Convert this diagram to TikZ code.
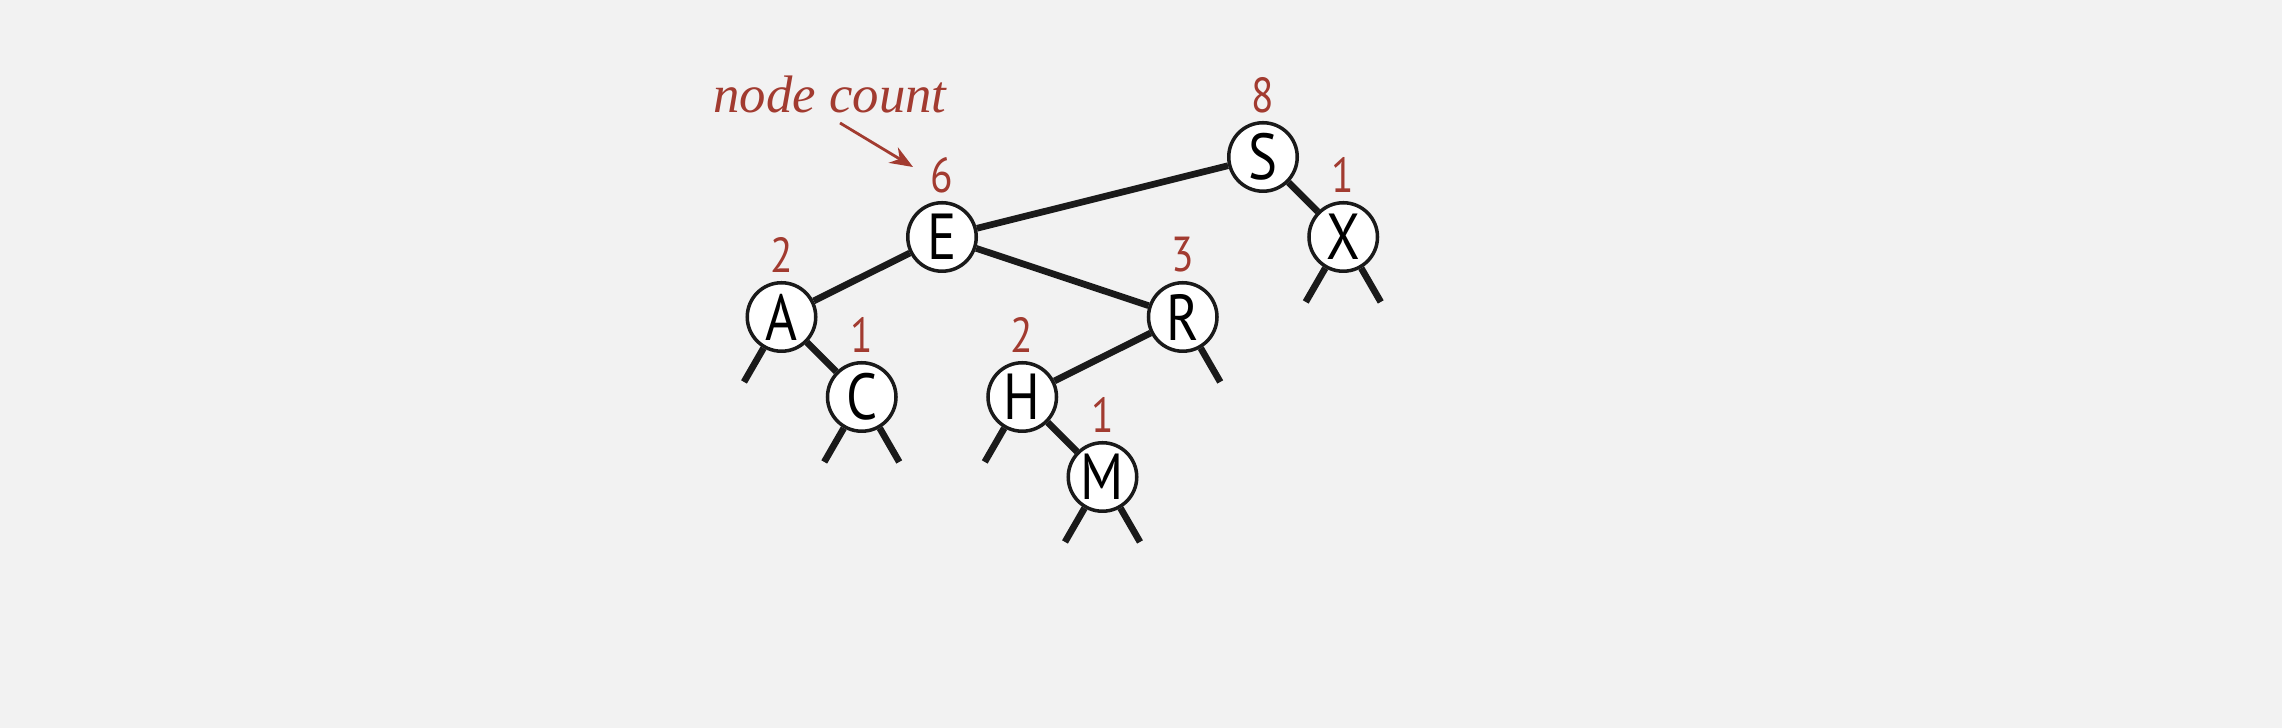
\documentclass[tikz,border=0pt]{standalone}
\usepackage{fontspec}
\setmainfont{Liberation Serif}
\newfontfamily\keyfont[Numbers=Lining,FakeStretch=0.84]{PT Sans}
\usetikzlibrary{arrows.meta,positioning,calc}
\definecolor{Bg}{HTML}{F2F2F2}
\definecolor{Count}{HTML}{A23B30}
\definecolor{Ink}{HTML}{1A1A1A}
\tikzset{
  key/.style={circle,draw=Ink,line width=1pt,fill=white,minimum size=6.85mm,
              inner sep=0pt,font=\keyfont\fontsize{18.5}{18.5}\selectfont},
  count/.style={text=Count,font=\keyfont\fontsize{14}{14}\selectfont,
              anchor=center,label distance=2.6mm},
  link/.style={draw=Ink,line width=1.9pt},
  nulllink/.style={draw=Ink,line width=1.9pt},
  note/.style={text=Count,font=\itshape\fontsize{15}{16}\selectfont},
  pointer/.style={-{Stealth[length=2.3mm,width=1.8mm]},draw=Count,line width=0.8pt}
}

\begin{document}
\begin{tikzpicture}
  \fill[Bg] (0,0) rectangle (22.82,7.28);
  \useasboundingbox (0,0) rectangle (22.82,7.28);
  % keys in sorted order, one level down = 8mm
  \node[key,label={[count]above:2}] (A) at (7.815,4.11) {A};
  \node[key,label={[count]above:1}] (C) at (8.6175,3.31) {C};
  \node[key,label={[count]above:6}] (E) at (9.42,4.91) {E};
  \node[key,label={[count]above:2}] (H) at (10.2225,3.31) {H};
  \node[key,label={[count]above:1}] (M) at (11.025,2.51) {M};
  \node[key,label={[count]above:3}] (R) at (11.8275,4.11) {R};
  \node[key,label={[count]above:8}] (S) at (12.63,5.71) {S};
  \node[key,label={[count]above:1}] (X) at (13.4325,4.91) {X};
  \draw[link] (S) -- (E);
  \draw[link] (S) -- (X);
  \draw[link] (E) -- (A);
  \draw[link] (E) -- (R);
  \draw[link] (A) -- (C);
  \draw[link] (R) -- (H);
  \draw[link] (H) -- (M);
  % null links
  \foreach \k in {A,C,H,M,X} {
    \coordinate (\k-l) at ($(\k.240)+(240:3.9mm)$);
    \draw[nulllink] (\k.240) -- (\k-l);
  }
  \foreach \k in {C,M,R,X} {
    \coordinate (\k-r) at ($(\k.300)+(300:3.9mm)$);
    \draw[nulllink] (\k.300) -- (\k-r);
  }
  \node[note,anchor=base] (note) at (8.30,6.15) {node count};
  \coordinate (tail) at (8.40,6.05);
  \coordinate (tip) at (9.13,5.61);
  \draw[pointer] (tail) -- (tip);
\end{tikzpicture}
\end{document}
